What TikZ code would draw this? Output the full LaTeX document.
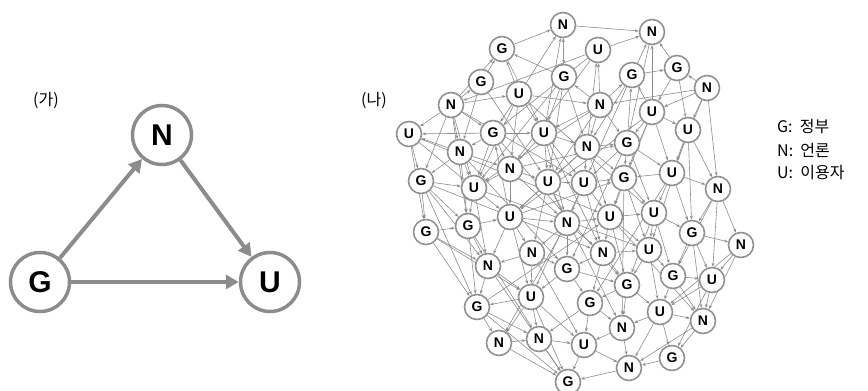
\documentclass[tikz,border=0pt]{standalone}
\usepackage{fontspec}
\setmainfont{Liberation Sans}
\newfontfamily\kr{Noto Sans CJK KR}
\usetikzlibrary{arrows.meta,backgrounds}
\definecolor{bigc}{RGB}{140,140,140}
\definecolor{smc}{RGB}{145,145,145}
\definecolor{edc}{RGB}{140,140,140}
\tikzset{
  bignode/.style={circle,draw=bigc,line width=3.5pt,fill=white,minimum size=59pt,inner sep=0pt,font=\fontsize{30}{30}\selectfont\bfseries},
  bigedge/.style={draw=bigc,line width=4pt,-{Triangle[length=13pt,width=14pt]}},
  nn/.style={circle,draw=smc,line width=1.6pt,fill=white,minimum size=25pt,inner sep=0pt,font=\fontsize{14}{14}\selectfont\bfseries},
  ee/.style={draw=edc,line width=0.6pt,-{Stealth[length=4pt,width=3pt]}},
  lbl/.style={font=\kr\fontsize{16}{18}\selectfont,inner sep=0pt,anchor=west}
}
\begin{document}
\begin{tikzpicture}[x=1pt,y=-1pt]
\useasboundingbox (0,0) rectangle (868,391);
% (ga)
\node[lbl] (ga) at (33,100) {(가)};
\node[bignode] (G) at (40,282) {G};
\node[bignode] (N) at (162,135) {N};
\node[bignode] (U) at (270,282) {U};
\draw[bigedge] (G) -- (N);
\draw[bigedge] (N) -- (U);
\draw[bigedge] (G) -- (U);
% (na)
\node[lbl] (na) at (361,100) {(나)};
\foreach \i/\x/\y/\t in {
1/563/25/N, 2/652/32/N, 3/502/49/G, 4/598/50/U, 5/564/77/G, 6/632/75/G, 7/677/68/G,
8/481/82/G, 9/519/94/U, 10/707/88/N, 11/451/105/N, 12/600/105/N, 13/652/112/U, 14/688/130/U,
15/409/134/U, 16/493/133/G, 17/544/133/U, 18/587/147/N, 19/627/143/G, 20/460/152/N, 21/510/169/N,
22/672/173/U, 23/421/181/G, 24/474/188/U, 25/548/182/U, 26/584/183/U, 27/624/178/G, 28/718/189/N,
29/426/232/G, 30/468/226/G, 31/510/217/U, 32/567/223/N, 33/610/217/U, 34/654/213/U, 35/692/233/G,
36/741/245/N, 37/532/253/N, 38/603/253/N, 39/649/250/U, 40/488/266/N, 41/567/269/G, 42/673/276/G,
43/712/280/U, 44/627/285/G, 45/531/297/U, 46/590/303/G, 47/477/307/G, 48/660/312/U, 49/703/321/N,
50/622/328/N, 51/499/343/N, 52/539/339/N, 53/584/345/U, 54/672/358/G, 55/629/368/N, 56/568/382/G}
  \node[nn] (n\i) at (\x,\y) {\t};
\begin{pgfonlayer}{background}
\foreach \a/\b in {
3/1,1/5,5/1,1/2,17/1,9/1,
4/2,6/2,13/2,7/2,
8/3,9/3,5/3,11/3,
12/4,18/4,4/21,4/11,
5/17,12/5,5/25,5/18,
6/7,12/6,13/6,6/18,19/6,
10/7,7/14,7/13,
11/8,8/20,
9/16,9/17,11/9,9/12,9/21,9/24,
10/13,10/12,10/28,10/14,
11/15,11/20,11/16,11/24,11/23,
12/17,12/18,12/19,12/25,
13/14,13/19,13/22,13/27,13/33,
14/28,14/22,14/35,
15/23,16/15,20/15,15/29,
16/20,16/17,16/21,16/24,31/16,
17/18,17/21,17/25,17/26,17/32,
18/19,18/26,18/27,18/33,18/25,
19/22,19/27,19/26,19/34,
20/23,20/24,20/21,20/30,
21/24,21/25,21/31,21/32,
22/28,22/27,22/34,22/35,
23/29,23/24,23/30,23/47,
24/30,24/31,24/40,
25/26,25/31,25/32,25/37,
26/27,26/33,26/32,26/38,
27/33,27/34,27/39,
28/35,28/36,28/43,
29/30,29/47,29/40,
30/31,30/40,30/47,
31/32,31/37,31/40,31/45,
32/33,32/37,32/38,32/41,
33/34,33/38,33/39,33/44,
34/35,34/39,34/42,
35/36,35/43,35/42,35/49,
36/43,36/49,
37/40,37/41,37/45,
38/39,38/41,38/44,38/46,
39/42,39/44,39/48,
40/45,40/47,
41/45,41/46,41/44,
42/43,42/48,42/49,
43/49,43/48,
44/46,44/48,44/50,
45/47,45/51,45/52,45/53,45/56,
46/50,46/53,46/52,
47/51,47/52,47/56,
48/49,48/50,48/54,48/55,
49/54,49/55,
50/53,50/55,
51/52,51/56,
52/53,52/56,
53/55,53/56,
54/55,55/56,
15/33,23/38,11/26,8/25,16/44,20/41,29/45,24/39,30/52,47/33,31/27,21/19,17/38,9/34,
4/16,12/24,2/19,6/26,3/17,5/24,13/31,19/41,22/46,14/39,28/42,10/22,36/48,43/54,27/50,
26/45,32/51,37/53,40/56,25/50,33/49,34/44,18/31,11/30,15/24,23/40}
  \draw[ee] (n\a) -- (n\b);
\end{pgfonlayer}
% legend
\node[lbl] (lg) at (777,127) {G:\ \ 정부};
\node[lbl] (ln) at (777,150) {N:\ \ 언론};
\node[lbl] (lu) at (777,173) {U:\ \ 이용자};
\end{tikzpicture}
\end{document}
